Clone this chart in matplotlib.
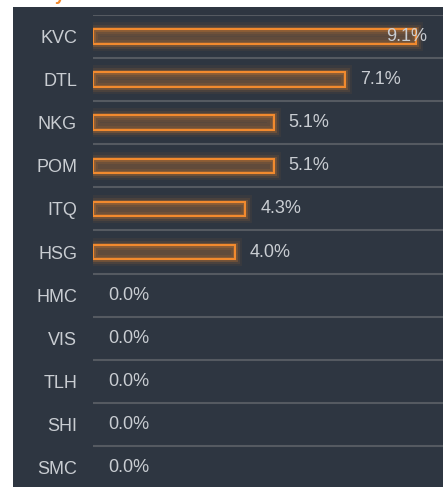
import matplotlib
matplotlib.use("Agg")
import matplotlib.pyplot as plt
from matplotlib.patches import Rectangle
import matplotlib.patheffects as pe

categories = ["KVC", "DTL", "NKG", "POM", "ITQ", "HSG", "HMC", "VIS", "TLH", "SHI", "SMC"]
values = [9.1, 7.1, 5.1, 5.1, 4.3, 4.0, 0.0, 0.0, 0.0, 0.0, 0.0]
value_labels = [f"{v:.1f}%" for v in values]

W, H = 443, 487
DPI = 100
ORANGE = "#f28a2e"
PANEL = "#2e3641"
GRID = "#555a61"
TEXT = "#c9cdd2"

plt.rcParams["font.family"] = ["Liberation Sans", "DejaVu Sans"]

fig = plt.figure(figsize=(W / DPI, H / DPI), dpi=DPI, facecolor="white")

# dark panel
fig.patches.append(Rectangle((13 / W, 0), 1 - 13 / W, (H - 7) / H,
                             transform=fig.transFigure, facecolor=PANEL,
                             edgecolor="none", zorder=-5))
# clipped title fragment
fig.text(55 / W, 1.0, "y", color=ORANGE, fontsize=13, fontweight="bold",
         va="baseline", ha="left")

row_px = 43.1
top_px = 15
n = len(categories)
ax_h = n * row_px
ax = fig.add_axes([93 / W, (H - top_px - ax_h) / H, (W - 93) / W, ax_h / H])
ax.set_zorder(2)
ax.set_facecolor("none")
xmax = max(values) * 1.085
ax.set_xlim(0, xmax)
ax.set_ylim(n - 0.5, -0.5)

for s in ax.spines.values():
    s.set_visible(False)
ax.set_xticks([])
ax.set_yticks(range(n))
ax.set_yticklabels(categories)
ax.tick_params(axis="y", length=0, pad=11.5, labelsize=13, labelcolor=TEXT)

for i in range(n):
    ax.axhline(i - 0.5, color=GRID, lw=1.5, zorder=1)

glow = [pe.Stroke(linewidth=10, foreground=ORANGE, alpha=0.06),
        pe.Stroke(linewidth=6.5, foreground=ORANGE, alpha=0.10),
        pe.Stroke(linewidth=3.5, foreground=ORANGE, alpha=0.22),
        pe.Normal()]

pos = [i for i, v in enumerate(values) if v > 0]
pos_vals = [values[i] for i in pos]
ax.barh(pos, pos_vals, height=0.34, left=0,
        color=(0.95, 0.54, 0.18, 0.22), edgecolor="none", zorder=2)
outline = ax.barh(pos, pos_vals, height=0.34, left=0, facecolor="none",
                  edgecolor=ORANGE, linewidth=1.5, zorder=3)
for p in outline.patches:
    p.set_path_effects(glow)

offset_px = 15
right_limit = (427 - 93) / (W - 93)  # axes fraction
est_w = 42 / (W - 93)
for i, (v, lab) in enumerate(zip(values, value_labels)):
    frac = v / xmax + offset_px / (W - 93)
    if frac + est_w > right_limit:
        ax.annotate(lab, xy=(right_limit, i), xycoords=("axes fraction", "data"),
                    color=TEXT, fontsize=13, va="center", ha="right", zorder=5)
    else:
        ax.annotate(lab, xy=(v, i), xytext=(offset_px * 72 / DPI, 0),
                    textcoords="offset points", color=TEXT, fontsize=13,
                    va="center", ha="left", zorder=5)

fig.savefig("out.png", dpi=DPI, facecolor="white")
